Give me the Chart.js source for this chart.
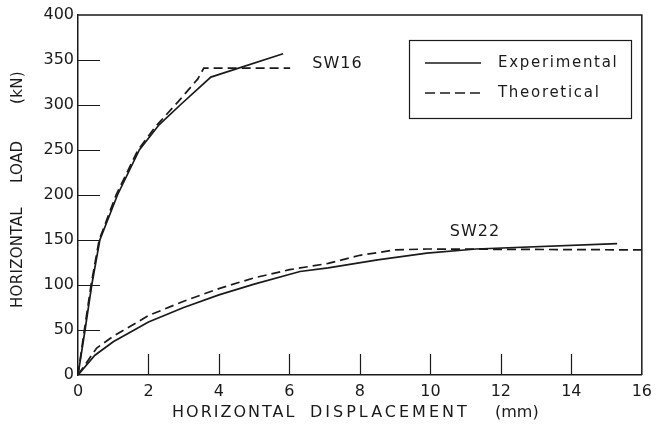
<!DOCTYPE html>
<html><head><meta charset="utf-8">
<script src="https://cdn.jsdelivr.net/npm/chart.js@4/dist/chart.umd.min.js"></script>
<style>html,body{margin:0;padding:0;background:#fff}#wrap{width:659px;height:430px}</style>
</head><body><div id="wrap"><canvas id="c" width="659" height="430"></canvas></div>
<script>
// ---- data ----
const xTickValues = [0, 2, 4, 6, 8, 10, 12, 14, 16];
const yTickValues = [0, 50, 100, 150, 200, 250, 300, 350, 400];

const sw16ExpX = [0, 0.2, 0.39, 0.62, 1.12, 1.74, 2.3, 2.9, 3.77, 5.82];
const sw16ExpY = [0, 50, 100, 150, 200, 250, 278, 300, 331, 357];
const sw16TheoX = [0, 0.18, 0.37, 0.6, 1.08, 1.7, 2.2, 2.85, 3.4, 3.57, 6.02];
const sw16TheoY = [0, 50, 100, 150, 200, 250, 276, 304, 329, 341, 341];

const sw22ExpX = [0, 0.48, 1, 2, 3, 4, 5, 6.3, 7.1, 8.5, 9.9, 11.3, 15.3];
const sw22ExpY = [0, 22, 37, 59, 75, 89, 101, 115, 119, 128, 135.5, 140, 146];
const sw22TheoX = [0, 0.53, 1, 2, 3, 4, 5, 6, 7.1, 8, 9, 9.9, 16];
const sw22TheoY = [0, 30, 43, 66, 82, 96, 108, 117, 124, 133, 139, 140, 139];

const seriesNames = ['Experimental', 'Theoretical'];
const curveLabels = ['SW16', 'SW22'];
const xTitleWords = ['HORIZONTAL', 'DISPLACEMENT', '(mm)'];
const yTitleWords = ['HORIZONTAL', 'LOAD', '(kN)'];

const pts = (xs, ys) => xs.map((x, i) => ({x, y: ys[i]}));
const INK = '#1a1a1a';
const FONT = '"DejaVu Sans", "Liberation Sans", sans-serif';

const solid = (d) => ({data: d, borderColor: INK, borderWidth: 1.7, pointRadius: 0, tension: 0, fill: false});
const dashed = (d) => ({data: d, borderColor: INK, borderWidth: 1.7, borderDash: [9, 5], pointRadius: 0, tension: 0, fill: false});

const decor = {
  id: 'decor',
  afterDraw(chart) {
    const {ctx, chartArea: a, scales: {x, y}} = chart;
    ctx.save();
    ctx.strokeStyle = INK; ctx.fillStyle = INK; ctx.lineWidth = 1.5;
    // top & right frame
    ctx.beginPath();
    ctx.moveTo(a.left, a.top); ctx.lineTo(a.right, a.top); ctx.lineTo(a.right, a.bottom);
    ctx.stroke();
    // inner ticks
    ctx.lineWidth = 1.2;
    ctx.beginPath();
    yTickValues.slice(1, -1).forEach(v => {
      const py = Math.round(y.getPixelForValue(v)) + 0.5;
      ctx.moveTo(a.left, py); ctx.lineTo(a.left + 22, py);
    });
    xTickValues.slice(1, -1).forEach(v => {
      const px = Math.round(x.getPixelForValue(v)) + 0.5;
      ctx.moveTo(px, a.bottom); ctx.lineTo(px, a.bottom - 21);
    });
    ctx.stroke();

    // curve labels
    ctx.font = '16px ' + FONT;
    ctx.textBaseline = 'alphabetic';
    ctx.textAlign = 'left';
    ctx.letterSpacing = '1px';
    ctx.fillText(curveLabels[0], x.getPixelForValue(6.65), y.getPixelForValue(342) + 1);
    ctx.fillText(curveLabels[1], x.getPixelForValue(10.55), y.getPixelForValue(160) + 5);

    // legend box
    const lx = 409, ly = 40, lw = 222, lh = 78;
    ctx.lineWidth = 1.2;
    ctx.strokeRect(lx + 0.5, ly + 0.5, lw, lh);
    ctx.lineWidth = 1.7;
    ctx.beginPath(); ctx.moveTo(425, 63); ctx.lineTo(481, 63); ctx.stroke();
    ctx.setLineDash([10, 5]);
    ctx.beginPath(); ctx.moveTo(425, 93); ctx.lineTo(481, 93); ctx.stroke();
    ctx.setLineDash([]);
    ctx.font = '15px ' + FONT;
    ctx.letterSpacing = '1.7px';
    ctx.textBaseline = 'middle';
    ctx.fillText(seriesNames[0], 498, 63);
    ctx.fillText(seriesNames[1], 498, 93);

    // axis titles
    ctx.font = '16px ' + FONT;
    ctx.textBaseline = 'middle';
    ctx.letterSpacing = '2px';
    ctx.fillText(xTitleWords[0], 172, 413);
    ctx.letterSpacing = '3px';
    ctx.fillText(xTitleWords[1], 310, 413);
    ctx.letterSpacing = '0px';
    ctx.fillText(xTitleWords[2], 495, 413);

    ctx.translate(18, 195);
    ctx.rotate(-Math.PI / 2);
    ctx.font = '15px ' + FONT;
    ctx.letterSpacing = '0.3px';
    ctx.textAlign = 'left';
    ctx.fillText(yTitleWords[0], 195 - 308, 0);
    ctx.fillText(yTitleWords[1], 195 - 183, 0);
    ctx.fillText(yTitleWords[2], 195 - 104, 0);
    ctx.restore();
  }
};

new Chart(document.getElementById('c'), {
  type: 'line',
  data: {
    datasets: [
      solid(pts(sw16ExpX, sw16ExpY)),
      dashed(pts(sw16TheoX, sw16TheoY)),
      solid(pts(sw22ExpX, sw22ExpY)),
      dashed(pts(sw22TheoX, sw22TheoY))
    ]
  },
  options: {
    responsive: false,
    animation: false,
    devicePixelRatio: 1,
    layout: {padding: {top: 15, right: 12, left: 0, bottom: 0}},
    plugins: {legend: {display: false}, tooltip: {enabled: false}},
    scales: {
      x: {
        type: 'linear', min: 0, max: 16,
        afterBuildTicks: s => { s.ticks = xTickValues.map(v => ({value: v})); },
        afterFit: s => { s.height = 55; },
        grid: {drawOnChartArea: false, drawTicks: false},
        border: {display: true, color: INK, width: 1.5},
        ticks: {font: {family: FONT, size: 16}, color: INK, padding: 7, maxRotation: 0}
      },
      y: {
        type: 'linear', min: 0, max: 400,
        afterBuildTicks: s => { s.ticks = yTickValues.map(v => ({value: v})); },
        afterFit: s => { s.width = 78; },
        grid: {drawOnChartArea: false, drawTicks: false},
        border: {display: true, color: INK, width: 1.5},
        ticks: {font: {family: FONT, size: 16}, color: INK, padding: 4}
      }
    }
  },
  plugins: [decor]
});
</script>
</body></html>
